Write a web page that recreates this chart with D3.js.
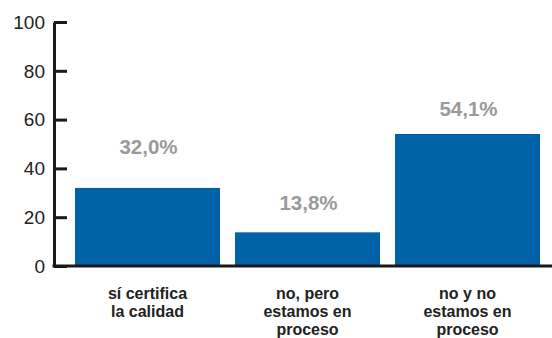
<!DOCTYPE html>
<html>
<head>
<meta charset="utf-8">
<script src="https://cdn.jsdelivr.net/npm/d3@7"></script>
<style>
  html, body { margin: 0; padding: 0; background: #fff; }
  svg { display: block; }
</style>
</head>
<body>
<svg id="chart" width="552" height="338"></svg>
<script>
// Respuestas: ¿certifica la calidad?
const categories = [
  ["sí certifica", "la calidad"],
  ["no, pero", "estamos en", "proceso"],
  ["no y no", "estamos en", "proceso"]
];
const values = [32.0, 13.8, 54.1];
const valueLabels = ["32,0%", "13,8%", "54,1%"];
const yTicks = [0, 20, 40, 60, 80, 100];

const svg = d3.select("#chart");
const axisX = 54, baseY = 266, topY = 22;

const x = d3.scaleBand()
  .domain(d3.range(values.length))
  .range([67, 548])
  .paddingInner(15 / 160)
  .paddingOuter(8 / 160);

const y = d3.scaleLinear().domain([0, 100]).range([baseY, topY]);

// Bars
svg.append("g").selectAll("rect")
  .data(values)
  .join("rect")
  .attr("x", (d, i) => x(i))
  .attr("y", d => y(d))
  .attr("width", x.bandwidth())
  .attr("height", d => baseY - y(d))
  .attr("fill", "#0062a7");

// Y axis (ticks pointing into the plot)
const yAxis = svg.append("g")
  .attr("transform", `translate(${axisX},0)`)
  .call(d3.axisRight(y).tickValues(yTicks).tickSize(13).tickSizeOuter(0).tickFormat(""));
yAxis.select(".domain").attr("stroke", "#1a1a1a").attr("stroke-width", 3);
yAxis.selectAll(".tick line").attr("stroke", "#1a1a1a").attr("stroke-width", 3);

svg.append("g").selectAll("text")
  .data(yTicks)
  .join("text")
  .attr("x", 45)
  .attr("y", d => y(d))
  .attr("dy", "0.36em")
  .attr("text-anchor", "end")
  .attr("font-family", "'Liberation Sans', Arial, sans-serif")
  .attr("font-size", 19)
  .attr("fill", "#222")
  .text(d => d);

// Baseline
svg.append("line")
  .attr("x1", axisX - 1.5).attr("x2", 552)
  .attr("y1", baseY).attr("y2", baseY)
  .attr("stroke", "#1a1a1a").attr("stroke-width", 3);

// Value labels above bars
const labelLift = [34, 22, 18];
svg.append("g").selectAll("text")
  .data(values)
  .join("text")
  .attr("x", (d, i) => x(i) + x.bandwidth() / 2 + 1)
  .attr("y", (d, i) => y(d) - labelLift[i])
  .attr("text-anchor", "middle")
  .attr("font-family", "'Liberation Sans', Arial, sans-serif")
  .attr("font-weight", "bold")
  .attr("font-size", 20.5)
  .attr("fill", "#9a9a9a")
  .text((d, i) => valueLabels[i]);

// Category labels
const cat = svg.append("g").selectAll("text")
  .data(categories)
  .join("text")
  .attr("text-anchor", "middle")
  .attr("font-family", "'Liberation Sans', Arial, sans-serif")
  .attr("font-weight", "bold")
  .attr("font-size", 16)
  .attr("fill", "#222");
cat.selectAll("tspan")
  .data((d, i) => d.map(s => ({ s, i })))
  .join("tspan")
  .attr("x", d => x(d.i) + x.bandwidth() / 2)
  .attr("y", (d, j) => 299 + j * 18)
  .text(d => d.s);
</script>
</body>
</html>
